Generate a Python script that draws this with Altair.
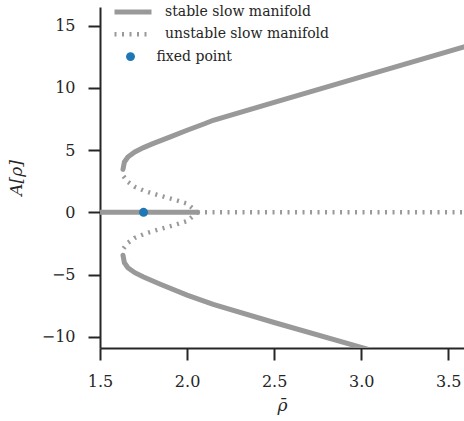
import altair as alt
import pandas as pd

# ---- data ----
up_x = [1.632, 1.64, 1.66, 1.70, 1.75, 1.80, 1.90, 2.00, 2.10, 2.15, 2.50, 3.00, 3.59]
up_y = [3.45, 4.05, 4.45, 4.85, 5.20, 5.50, 6.05, 6.60, 7.12, 7.40, 8.84, 10.89, 13.30]
lo_x = [1.632, 1.64, 1.66, 1.70, 1.75, 1.85, 2.00, 2.15, 2.50, 3.00, 3.20]
lo_y = [-3.45, -4.05, -4.45, -4.85, -5.20, -5.80, -6.65, -7.40, -8.85, -10.85, -11.65]
zs_x = [1.50, 2.06]
zs_y = [0.0, 0.0]
uu_x = [1.635, 1.66, 1.70, 1.76, 1.83, 1.92, 2.00, 2.06]
uu_y = [2.90, 2.45, 2.05, 1.70, 1.40, 1.05, 0.70, 0.00]
ul_x = [1.635, 1.66, 1.70, 1.76, 1.83, 1.92, 2.00, 2.06]
ul_y = [-2.90, -2.45, -2.05, -1.70, -1.40, -1.05, -0.70, 0.00]
zu_x = [2.06, 3.59]
zu_y = [0.0, 0.0]
fp_x = [1.75]
fp_y = [0.0]

STABLE = "stable slow manifold"
UNSTABLE = "unstable slow manifold"
FIXED = "fixed point"

rows = []
for seg, (xs_, ys_, kind) in enumerate([
    (up_x, up_y, STABLE), (lo_x, lo_y, STABLE), (zs_x, zs_y, STABLE),
    (uu_x, uu_y, UNSTABLE), (ul_x, ul_y, UNSTABLE), (zu_x, zu_y, UNSTABLE)]):
    for i, (x, y) in enumerate(zip(xs_, ys_)):
        rows.append({"x": x, "y": y, "seg": seg, "i": i, "kind": kind})
lines = pd.DataFrame(rows)
pts = pd.DataFrame({"x": fp_x, "y": fp_y, "kind": [FIXED] * len(fp_x)})

GRAY = "#999999"
BLUE = "#1f77b4"
FONT = "DejaVu Serif"
INK = "#262626"
DOTS = [2, 5.5]

xs = alt.Scale(domain=[1.5, 3.59], nice=False, zero=False)
ys = alt.Scale(domain=[-10.9, 16.5], nice=False, zero=False)

common = dict(title=None, orient="none", padding=0, clipHeight=20,
              labelFont=FONT, labelFontSize=14, labelColor=INK,
              labelBaseline="middle", labelLimit=300)

leg_stable = alt.Legend(legendX=12, legendY=-5, symbolType="stroke", symbolSize=1369,
                        symbolStrokeWidth=5, symbolStrokeColor=GRAY, labelOffset=11,
                        **common)
leg_unstable = alt.Legend(legendX=12, legendY=17.3, symbolType="stroke", symbolSize=1369,
                          symbolStrokeWidth=4.5, symbolStrokeColor=GRAY, symbolDash=DOTS,
                          labelOffset=11, **common)
leg_fixed = alt.Legend(legendX=23.5, legendY=39.6, symbolType="circle", symbolSize=80,
                       symbolFillColor=BLUE, symbolStrokeWidth=0, symbolOpacity=1,
                       labelOffset=19, **common)

X = alt.X("x:Q", scale=xs, title="ρ̄",
          axis=alt.Axis(values=[1.5, 2.0, 2.5, 3.0, 3.5], format=".1f", labelFlush=False))
Y = alt.Y("y:Q", scale=ys, title="A[ρ]",
          axis=alt.Axis(values=[-10, -5, 0, 5, 10, 15], format="d", labelFlush=False))

base = alt.Chart(lines)
stable = base.transform_filter(alt.datum.kind == STABLE).mark_line(
    strokeWidth=5, strokeCap="round", clip=True
).encode(x=X, y=Y,
         color=alt.Color("kind:N", scale=alt.Scale(domain=[STABLE], range=[GRAY]), legend=leg_stable),
         detail="seg:N", order="i:Q")
unstable = base.transform_filter(alt.datum.kind == UNSTABLE).mark_line(
    strokeWidth=4.5, strokeDash=DOTS, strokeCap="butt", clip=True
).encode(x=X, y=Y,
         color=alt.Color("kind:N", scale=alt.Scale(domain=[UNSTABLE], range=[GRAY]), legend=leg_unstable),
         detail="seg:N", order="i:Q")
point = alt.Chart(pts).mark_circle(size=80, opacity=1).encode(
    x=X, y=Y,
    color=alt.Color("kind:N", scale=alt.Scale(domain=[FIXED], range=[BLUE]), legend=leg_fixed))

chart = alt.layer(stable, unstable, point).resolve_scale(color="independent").properties(
    width=364, height=341,
    autosize=alt.AutoSizeParams(type="none"),
    padding={"left": 100, "top": 7, "right": 0, "bottom": 73},
    background="white",
).configure_view(stroke=None).configure_axis(
    grid=False, domainColor=INK, domainWidth=2, tickColor=INK, tickWidth=2,
    tickSize=12, labelFont=FONT, labelFontSize=16, labelColor=INK,
    labelPadding=13, titleFont=FONT, titleFontSize=17, titleFontStyle="italic",
    titleFontWeight="normal", titleColor=INK, labelFlush=False,
).configure_axisX(titlePadding=8).configure_axisY(titlePadding=16)

chart.save("out.html", embed_options={"renderer": "svg", "actions": False})
